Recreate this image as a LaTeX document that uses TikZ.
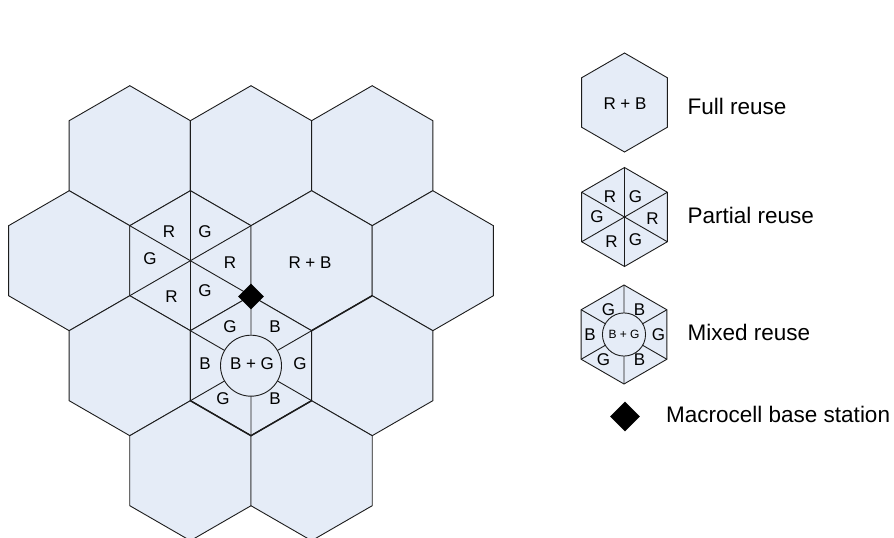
\documentclass[tikz,border=0pt]{standalone}
\usepackage{fontspec}
\setmainfont{Liberation Sans}
\usetikzlibrary{shapes.geometric}

\definecolor{cellfill}{RGB}{229,236,247}
\definecolor{cellline}{RGB}{28,28,28}

\begin{document}
\begin{tikzpicture}[x=1pt, y=-1pt]
    \tikzset{
        cell/.pic={
                \draw[cellline, fill=cellfill, line width=0.9pt] (30:70) -- (90:70) -- (150:70) -- (210:70) -- (270:70) -- (330:70) -- cycle;
            },
        sectors/.pic={
                \draw[cellline, line width=0.9pt] (90:70) -- (270:70);
                \draw[cellline, line width=0.9pt] (30:70) -- (210:70);
                \draw[cellline, line width=0.9pt] (150:70) -- (330:70);
            },
        mixed/.pic={
                \draw[cellline, line width=0.9pt] (30:70) -- (30:30.5) (90:70) -- (90:30.5) (150:70) -- (150:30.5)
                (210:70) -- (210:30.5) (270:70) -- (270:30.5) (330:70) -- (330:30.5);
                \draw[cellline, fill=cellfill, line width=0.9pt] (0,0) circle (30.5);
            },
        cell label/.style={
                font=\fontsize{17}{17}\selectfont, text=black, inner sep=0pt
            },
        legend label/.style={
                font=\fontsize{22.5}{22.5}\selectfont, text=black, anchor=base west, inner sep=0pt
            },
        station/.style={
                diamond, fill=black, inner sep=0pt, minimum size=#1
            }
    }
    \useasboundingbox (0,0) rectangle (894,538);

    % hexagonal layout
    \pic at (129.8,155.7) {cell};
    \pic at (251.0,155.7) {cell};
    \pic at (372.2,155.7) {cell};
    \pic at (69.2,260.7) {cell};
    \pic at (190.4,260.7) {cell};
    \pic at (311.6,260.7) {cell};
    \pic at (432.8,260.7) {cell};
    \pic at (129.8,365.7) {cell};
    \pic at (251.0,365.7) {cell};
    \pic at (372.2,365.7) {cell};
    \pic at (190.4,470.7) {cell};
    \pic at (311.6,470.7) {cell};

    \pic at (190.4,260.7) {sectors};
    \pic at (251.0,365.7) {mixed};
    \draw[cellline, line width=1.5pt] (190.4,400.7) -- (251.0,435.7) -- (311.6,400.7);
    \draw[cellline, line width=1.5pt] (311.6,330.7) -- (372.2,295.7);

    \node[station=26pt] (bs) at (251.0,296.5) {};

    % partial reuse cell
    \node[cell label] (p1) at (169.0,232.0) {R};
    \node[cell label] (p2) at (205.0,232.0) {G};
    \node[cell label] (p3) at (150.0,259.0) {G};
    \node[cell label] (p4) at (230.0,263.0) {R};
    \node[cell label] (p5) at (171.5,296.5) {R};
    \node[cell label] (p6) at (205.0,290.5) {G};
    % full reuse cell
    \node[cell label] (f1) at (310.0,262.5) {R + B};
    % mixed reuse cell
    \node[cell label] (m1) at (230.0,326.5) {G};
    \node[cell label] (m2) at (275.0,326.5) {B};
    \node[cell label] (m3) at (205.0,363.5) {B};
    \node[cell label] (m4) at (252.0,363.5) {B + G};
    \node[cell label] (m5) at (300.0,363.5) {G};
    \node[cell label] (m6) at (223.0,399.0) {G};
    \node[cell label] (m7) at (275.0,399.0) {B};

    % legend
    \pic[scale=0.707] at (624.5,102.5) {cell};
    \node[cell label] (lf) at (625.0,104.0) {R + B};
    \node[legend label] (tf) at (687.5,114.0) {Full reuse};

    \pic[scale=0.707] at (624.5,217.0) {cell};
    \pic[scale=0.707] at (624.5,217.0) {sectors};
    \node[cell label] (lp1) at (610.0,196.5) {R};
    \node[cell label] (lp2) at (635.5,196.5) {G};
    \node[cell label] (lp3) at (597.0,216.5) {G};
    \node[cell label] (lp4) at (652.5,219.0) {R};
    \node[cell label] (lp5) at (611.5,241.5) {R};
    \node[cell label] (lp6) at (635.5,239.5) {G};
    \node[legend label] (tp) at (687.5,223.3) {Partial reuse};

    \pic[scale=0.707] at (624.0,334.5) {cell};
    \pic[scale=0.707] at (624.0,334.5) {mixed};
    \node[cell label] (lm1) at (608.5,309.5) {G};
    \node[cell label] (lm2) at (639.5,309.5) {B};
    \node[cell label] (lm3) at (590.0,334.5) {B};
    \node[cell label, font=\fontsize{12}{12}\selectfont] (lm4) at (624.0,334.5) {B + G};
    \node[cell label] (lm5) at (658.5,335.0) {G};
    \node[cell label] (lm6) at (603.5,359.5) {G};
    \node[cell label] (lm7) at (639.5,359.5) {B};
    \node[legend label] (tm) at (687.5,340.0) {Mixed reuse};

    \node[station=30pt] (lbs) at (625.0,416.5) {};
    \node[legend label] (tb) at (666.0,422.7) {Macrocell base station};
\end{tikzpicture}
\end{document}
